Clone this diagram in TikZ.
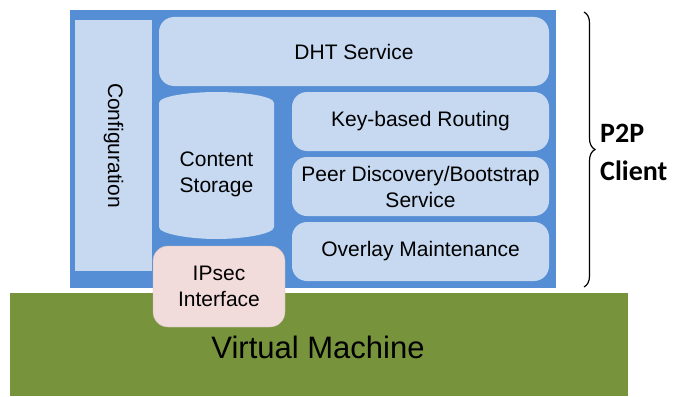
\documentclass[tikz,border=0pt]{standalone}
\usepackage{fontspec}
\setmainfont{Liberation Sans}
\newfontfamily\calib{Carlito}
\usetikzlibrary{decorations.pathreplacing}
\definecolor{outerblue}{HTML}{558ED5}
\definecolor{lightblue}{HTML}{C6D9F1}
\definecolor{pinkbox}{HTML}{F2DCDB}
\definecolor{vmgreen}{HTML}{77933C}
\tikzset{
  boxtext/.style={font=\fontsize{21}{26}\selectfont, align=center, text=black},
  lb/.style={boxtext, fill=lightblue, draw=none, inner sep=0pt, rounded corners=15pt},
  sq/.style={boxtext, fill=lightblue, draw=none, inner sep=0pt},
}
\begin{document}
\begin{tikzpicture}[x=1pt,y=-1pt]
\useasboundingbox (0,0) rectangle (676,396);
% virtual machine
\node[boxtext, fill=vmgreen, inner sep=0pt, minimum width=618pt, minimum height=103pt,
      font=\fontsize{31}{36}\selectfont] (vm) at (319,344.5) {};
\node[boxtext, font=\fontsize{31}{36}\selectfont] (vmt) at (318,347) {Virtual Machine};
% outer blue box
\node[fill=outerblue, inner sep=0pt, minimum width=486pt, minimum height=278pt] (p2p) at (313,149) {};
% configuration
\node[sq, rotate=-90, minimum width=251pt, minimum height=77pt] (conf) at (113.5,145.5) {Configuration};
% DHT service
\node[lb, minimum width=390pt, minimum height=69pt] (dht) at (354,51.5) {DHT Service};
% cylinder
\fill[lightblue] (159,103) .. controls (159,96) and (190,92) .. (216.5,92)
   .. controls (243,92) and (274,96) .. (274,103) -- (274,227)
   .. controls (274,234) and (243,239) .. (216.5,239)
   .. controls (190,239) and (159,234) .. (159,227) -- cycle;
\node[boxtext] (cs) at (216.5,174) {Content\\Storage};
% right stack
\node[lb, minimum width=257pt, minimum height=59pt] (kbr) at (420.5,121.5) {Key-based Routing};
\node[lb, minimum width=257pt, minimum height=59pt] (pd) at (420.5,186.5) {Peer Discovery/Bootstrap\\Service};
\node[lb, minimum width=257pt, minimum height=59pt] (om) at (420.5,251.5) {Overlay Maintenance};
% IPsec
\node[boxtext, fill=pinkbox, draw=pinkbox!85!black, line width=0.4pt, inner sep=0pt, rounded corners=15pt,
      minimum width=132pt, minimum height=81pt] (ips) at (219,286.5) {IPsec\\Interface};
% brace
\coordinate (bt) at (584,12);
\coordinate (bb) at (584,287);
\draw[line width=1.2pt, decorate, decoration={brace, amplitude=11pt}] (bt) -- (bb);
\node[anchor=west, align=left, font=\calib\bfseries\fontsize{28}{38}\selectfont, inner sep=0pt] (cl) at (600,152) {P2P\\Client};
\end{tikzpicture}
\end{document}
